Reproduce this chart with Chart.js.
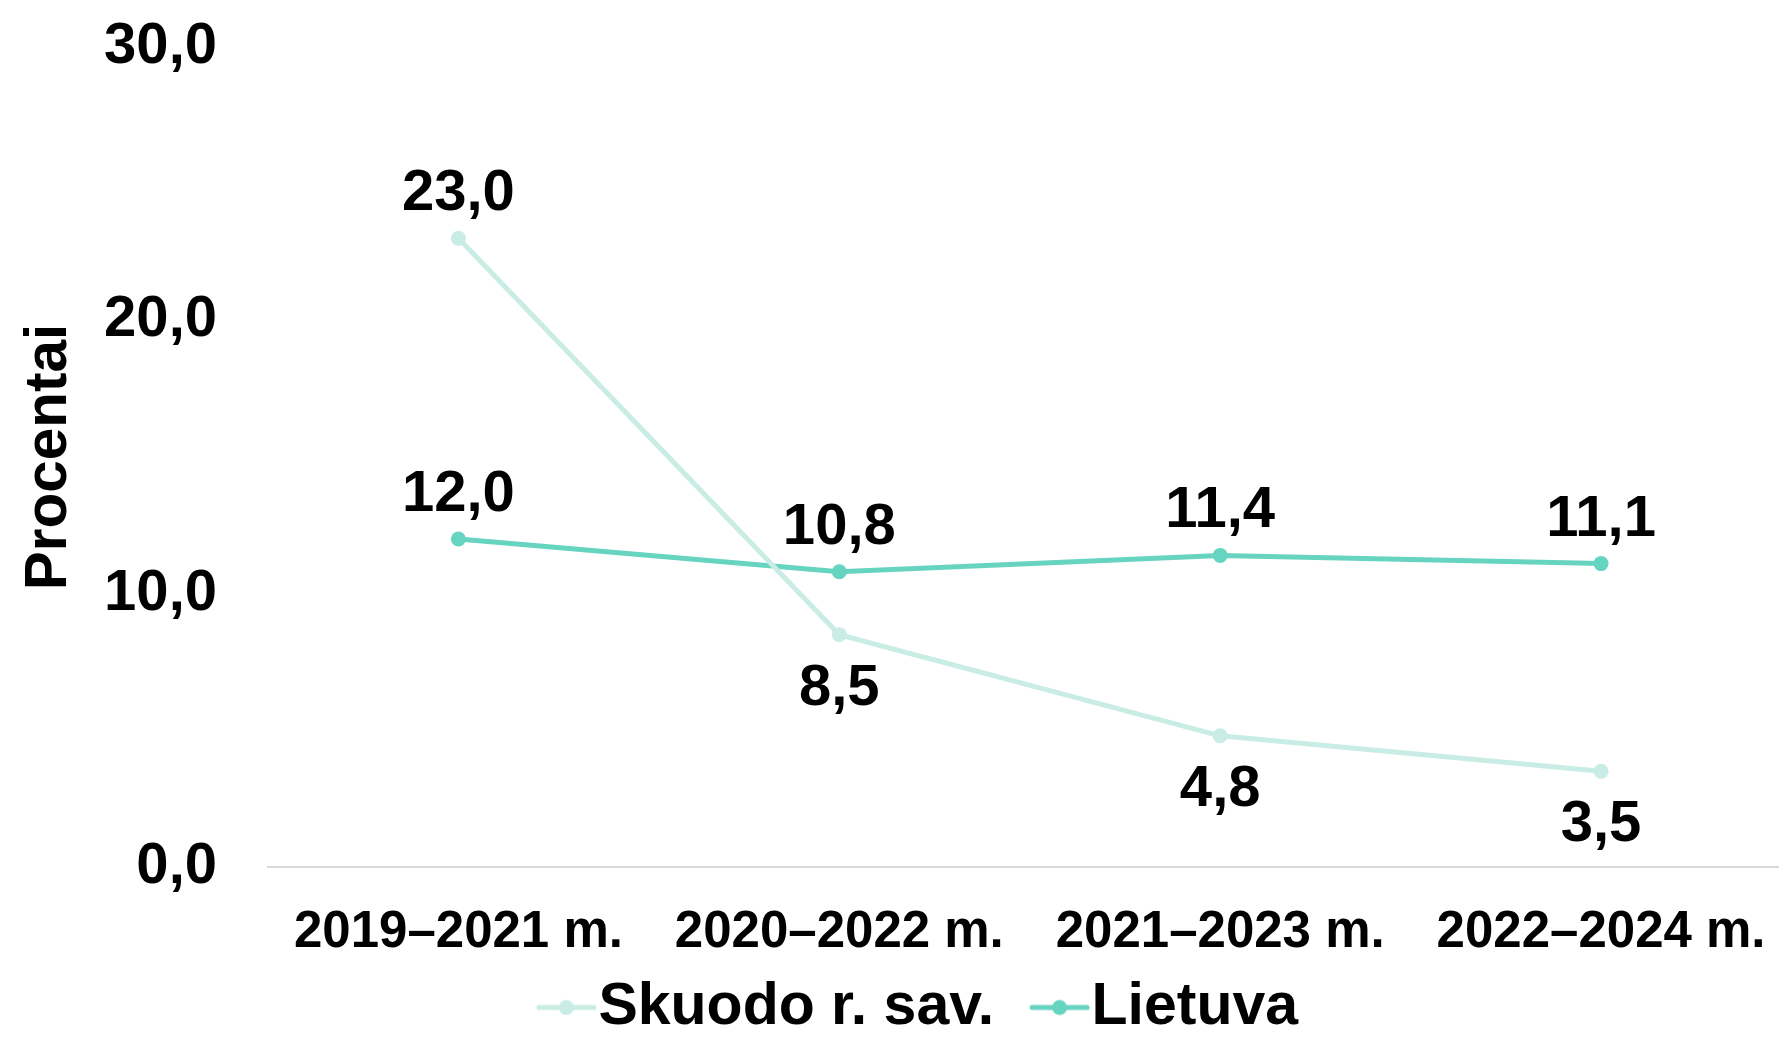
<!DOCTYPE html>
<html>
<head>
<meta charset="utf-8">
<script src="https://cdn.jsdelivr.net/npm/chart.js@4.4.1/dist/chart.umd.min.js"></script>
<style>
html,body{margin:0;padding:0;background:#fff;overflow:hidden;}
#wrap{width:1799px;height:1061px;}
</style>
</head>
<body>
<div id="wrap"><canvas id="c" width="1799" height="1061"></canvas></div>
<script>
const categories = ['2019–2021 m.', '2020–2022 m.', '2021–2023 m.', '2022–2024 m.'];
const skuodoValues = [23.0, 8.5, 4.8, 3.5];
const lietuvaValues = [12.0, 10.8, 11.4, 11.1];
const seriesNames = ['Skuodo r. sav.', 'Lietuva'];
const yTicks = [0, 10, 20, 30];
const yTitle = 'Procentai';

const LIGHT = '#c9ede4';
const DARK = '#66d4c0';
const FONT = "'Liberation Sans', Arial, sans-serif";
const LEG_B = 68;

function fmt(v){ return v.toFixed(1).replace('.', ','); }

function legendIcon(color){
  const c = document.createElement('canvas');
  const W = LEG_B + 60, H = 18;
  c.width = W; c.height = H;
  const g = c.getContext('2d');
  g.strokeStyle = color; g.lineWidth = 5; g.lineCap = 'round';
  g.beginPath(); g.moveTo(W - 60, H/2); g.lineTo(W - 5, H/2); g.stroke();
  g.fillStyle = color;
  g.beginPath(); g.arc(W - 32.5, H/2, 7.5, 0, Math.PI*2); g.fill();
  return c;
}
const icons = [legendIcon(LIGHT), legendIcon(DARK)];

const labelPlugin = {
  id: 'valueLabels',
  afterDatasetsDraw(chart){
    const ctx = chart.ctx;
    ctx.save();
    ctx.font = "bold 58px " + FONT;
    ctx.fillStyle = '#000';
    ctx.textAlign = 'center';
    chart.data.datasets.forEach((ds, di) => {
      const meta = chart.getDatasetMeta(di);
      meta.data.forEach((pt, i) => {
        const v = ds.data[i];
        const above = di === 1 || i === 0;
        if (above) {
          ctx.textBaseline = 'alphabetic';
          ctx.fillText(fmt(v), pt.x, pt.y - 28);
        } else {
          ctx.textBaseline = 'top';
          ctx.fillText(fmt(v), pt.x, pt.y + 25);
        }
      });
    });
    ctx.restore();
  }
};

new Chart(document.getElementById('c'), {
  type: 'line',
  data: {
    labels: categories,
    datasets: [
      { label: seriesNames[0], data: skuodoValues, borderColor: LIGHT, backgroundColor: LIGHT,
        borderWidth: 5, pointRadius: 7.5, pointBorderWidth: 0, pointBackgroundColor: LIGHT,
        pointStyle: 'circle', tension: 0 },
      { label: seriesNames[1], data: lietuvaValues, borderColor: DARK, backgroundColor: DARK,
        borderWidth: 5, pointRadius: 7.5, pointBorderWidth: 0, pointBackgroundColor: DARK,
        pointStyle: 'circle', tension: 0 }
    ]
  },
  options: {
    responsive: false,
    animation: false,
    devicePixelRatio: 1,
    layout: { padding: { top: 47, left: 0, right: 0, bottom: 14 } },
    plugins: {
      tooltip: { enabled: false },
      legend: {
        position: 'bottom',
        labels: {
          usePointStyle: true,
          pointStyleWidth: LEG_B,
          padding: 0,
          color: '#000',
          font: { family: FONT, size: 59, weight: 'bold', lineHeight: 1 },
          generateLabels(chart){
            return chart.data.datasets.map((ds, i) => ({
              text: ds.label, pointStyle: icons[i], fillStyle: ds.borderColor,
              strokeStyle: ds.borderColor, lineWidth: 0, hidden: false, datasetIndex: i, fontColor: '#000'
            }));
          }
        }
      }
    },
    scales: {
      x: {
        offset: true,
        grid: { display: false, offset: true },
        border: { display: true, color: '#d9d9d9', width: 2 },
        ticks: { color: '#000', padding: 27, maxRotation: 0, font: { family: FONT, size: 51, weight: 'bold' } },
        afterFit(axis){ axis.height = 111; axis.paddingLeft = 0; axis.paddingRight = 0; }
      },
      y: {
        min: 0, max: 30,
        grid: { display: false, drawTicks: false },
        border: { display: false },
        afterBuildTicks(axis){ axis.ticks = yTicks.map(v => ({ value: v })); },
        ticks: { color: '#000', padding: 51, font: { family: FONT, size: 58, weight: 'bold' },
          callback: v => fmt(v) },
        title: { display: true, text: yTitle, color: '#000', padding: { top: 15, bottom: 18 },
          font: { family: FONT, size: 58.5, weight: 'bold' } },
        afterFit(axis){ axis.width = 268; axis.paddingTop = 0; axis.paddingBottom = 0; }
      }
    }
  },
  plugins: [labelPlugin]
});
</script>
</body>
</html>
